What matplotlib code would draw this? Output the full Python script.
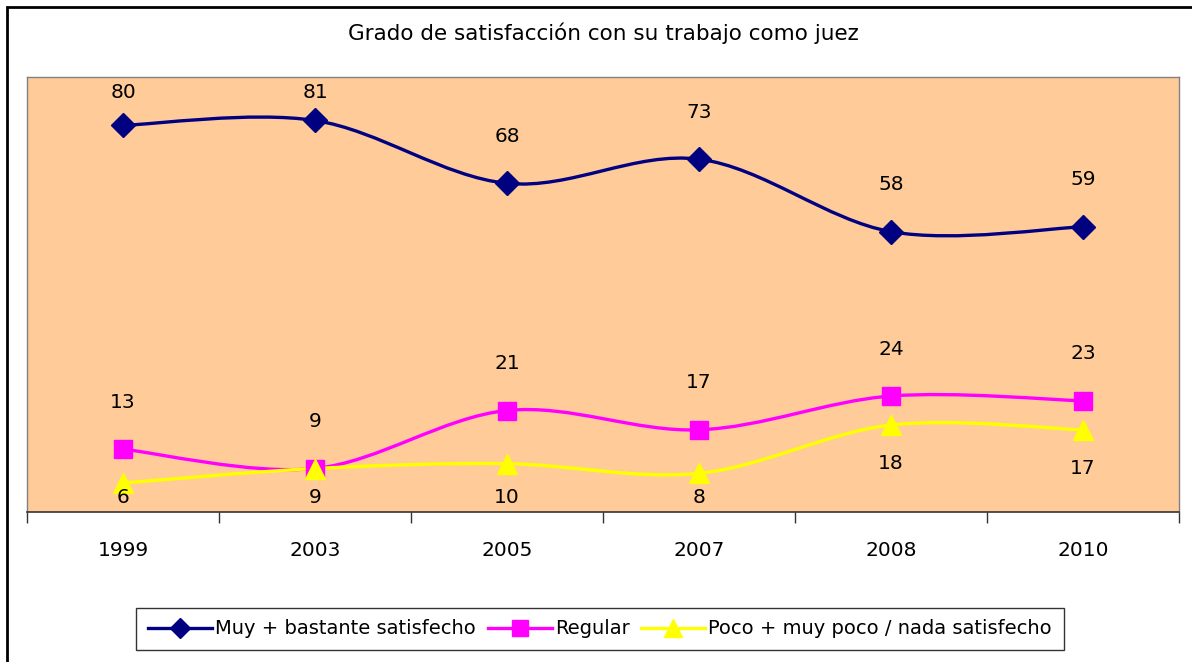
import matplotlib
matplotlib.use("Agg")
import matplotlib.pyplot as plt
from matplotlib.path import Path
from matplotlib.patches import PathPatch, Rectangle
from matplotlib.lines import Line2D

years = ["1999", "2003", "2005", "2007", "2008", "2010"]
muy = [80, 81, 68, 73, 58, 59]
regular = [13, 9, 21, 17, 24, 23]
poco = [6, 9, 10, 8, 18, 17]

plt.rcParams['font.family'] = ['DejaVu Sans']
FS = 14.5


def smooth_path(xs, ys):
    # Excel-like smoothed line: Catmull-Rom segments as cubic Beziers
    pts = list(zip(xs, ys))
    verts = [pts[0]]
    codes = [Path.MOVETO]
    n = len(pts)
    for i in range(n - 1):
        p0 = pts[i - 1] if i > 0 else pts[i]
        p1 = pts[i]
        p2 = pts[i + 1]
        p3 = pts[i + 2] if i + 2 < n else pts[i + 1]
        c1 = (p1[0] + (p2[0] - p0[0]) / 6, p1[1] + (p2[1] - p0[1]) / 6)
        c2 = (p2[0] - (p3[0] - p1[0]) / 6, p2[1] - (p3[1] - p1[1]) / 6)
        verts += [c1, c2, p2]
        codes += [Path.CURVE4] * 3
    return Path(verts, codes)


fig = plt.figure(figsize=(11.92, 6.62), dpi=100)
ax = fig.add_axes([27 / 1192, 1 - 512 / 662, 1152 / 1192, 435 / 662])
ax.set_facecolor('#FFCC99')

x = list(range(len(years)))
series = [
    ("Muy + bastante satisfecho", muy, '#000080', 'D', 12),
    ("Regular", regular, '#FF00FF', 's', 12.5),
    ("Poco + muy poco / nada satisfecho", poco, '#FFFF00', '^', 15),
]

handles = []
for name, vals, col, mk, ms in series:
    ax.add_patch(PathPatch(smooth_path(x, vals), facecolor='none', edgecolor=col,
                           lw=2.4, capstyle='round', joinstyle='round', zorder=3))
    ax.plot(x, vals, linestyle='none', marker=mk, markersize=ms, color=col,
            markeredgecolor=col, zorder=4)
    handles.append(Line2D([], [], color=col, lw=2.4, marker=mk, markersize=ms - 1.5,
                          markeredgecolor=col, label=name))

# data labels
for i, v in enumerate(muy):
    ax.text(i, min(v + 9.7, 86.8), str(v), ha='center', va='center', fontsize=FS, zorder=5)
for i, v in enumerate(regular):
    ax.text(i, v + 9.7, str(v), ha='center', va='center', fontsize=FS, zorder=5)
for i, v in enumerate(poco):
    ax.text(i, max(v - 7.9, 3.0), str(v), ha='center', va='center', fontsize=FS, zorder=5)

ax.set_xlim(-0.5, len(years) - 0.5)
ax.set_ylim(0, 90)
ax.set_yticks([])
ax.set_xticks(x)
ax.set_xticklabels(years, fontsize=FS)
ax.set_xticks([i - 0.5 for i in range(len(years) + 1)], minor=True)
ax.tick_params(axis='x', which='major', length=0, pad=21)
ax.tick_params(axis='x', which='minor', length=8, width=1, color='#333333', direction='out')
for s in ['left', 'right', 'top']:
    ax.spines[s].set_color('#808080')
    ax.spines[s].set_linewidth(1)
ax.spines['bottom'].set_color('#333333')
ax.spines['bottom'].set_linewidth(1.2)

fig.text(603 / 1192, 1 - 33 / 662, "Grado de satisfacción con su trabajo como juez",
         ha='center', va='center', fontsize=15.5)

leg = fig.legend(handles=handles, loc='center', bbox_to_anchor=(600 / 1192, 1 - 629 / 662),
                 ncol=3, fontsize=14, frameon=True, fancybox=False, edgecolor='black',
                 handlelength=3.3, handletextpad=0.15, columnspacing=0.6, borderpad=0.6)
leg.get_frame().set_linewidth(1)

fig.patches.append(Rectangle((7 / 1192, -0.1), 1.2, 1 - 7 / 662 + 0.1, transform=fig.transFigure,
                             fill=False, edgecolor='black', lw=2))

fig.savefig("out.png", dpi=100)
